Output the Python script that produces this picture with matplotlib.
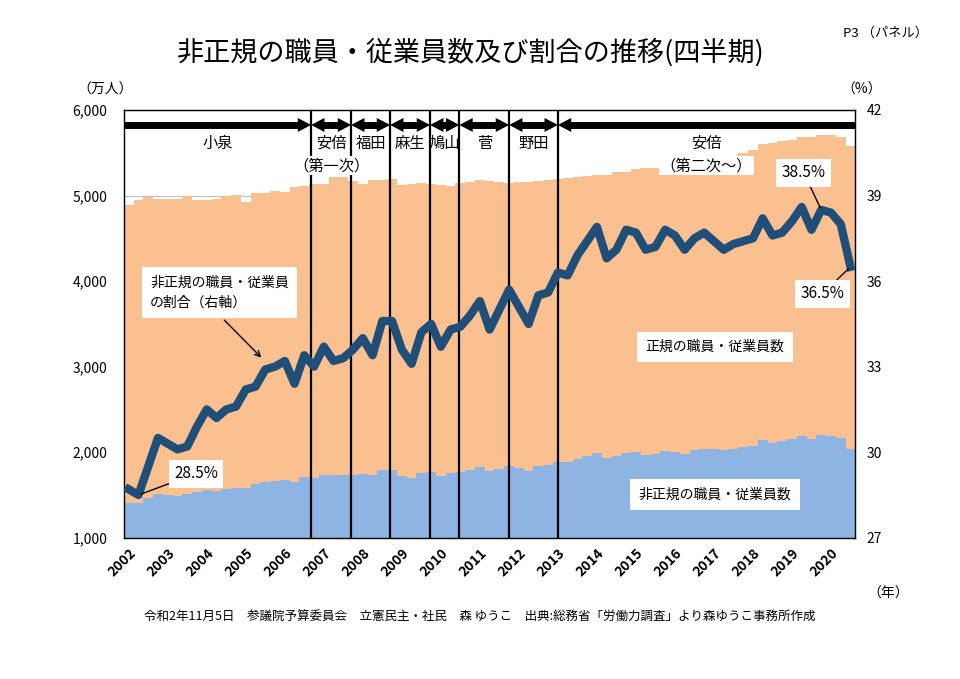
import numpy as np
import matplotlib.pyplot as plt
from matplotlib.ticker import FuncFormatter

plt.rcParams['font.family'] = ['Noto Sans CJK JP', 'DejaVu Sans']

# quarterly, 2002 Q1 ... 2020 Q3 (万人, %)
years = [str(y) for y in range(2002, 2021)]

non_regular = [1403, 1411, 1469, 1513, 1503, 1493, 1508, 1530, 1559, 1546,
               1573, 1582, 1587, 1623, 1653, 1668, 1675, 1651, 1707, 1696,
               1732, 1733, 1738, 1737, 1744, 1732, 1794, 1796, 1722, 1700,
               1759, 1770, 1727, 1753, 1772, 1796, 1828, 1775, 1807, 1839,
               1811, 1781, 1837, 1845, 1884, 1884, 1924, 1954, 1986, 1928,
               1955, 1996, 2000, 1973, 1979, 2015, 2008, 1983, 2021, 2034,
               2035, 2023, 2037, 2057, 2075, 2139, 2109, 2126, 2153, 2192,
               2151, 2196, 2193, 2162, 2037]

regular = [3487, 3539, 3511, 3447, 3457, 3467, 3487, 3420, 3391, 3409,
           3422, 3423, 3343, 3402, 3372, 3387, 3370, 3444, 3403, 3444,
           3408, 3487, 3482, 3433, 3386, 3453, 3391, 3394, 3402, 3435,
           3384, 3360, 3397, 3359, 3378, 3366, 3350, 3400, 3355, 3311,
           3349, 3381, 3338, 3337, 3306, 3321, 3289, 3271, 3254, 3312,
           3315, 3284, 3305, 3345, 3341, 3315, 3332, 3362, 3369, 3362,
           3405, 3431, 3423, 3443, 3457, 3461, 3501, 3514, 3497, 3488,
           3539, 3509, 3517, 3528, 3543]

ratio = [28.7, 28.5, 29.5, 30.5, 30.3, 30.1, 30.2, 30.9, 31.5, 31.2,
         31.5, 31.6, 32.2, 32.3, 32.9, 33.0, 33.2, 32.4, 33.4, 33.0,
         33.7, 33.2, 33.3, 33.6, 34.0, 33.4, 34.6, 34.6, 33.6, 33.1,
         34.2, 34.5, 33.7, 34.3, 34.4, 34.8, 35.3, 34.3, 35.0, 35.7,
         35.1, 34.5, 35.5, 35.6, 36.3, 36.2, 36.9, 37.4, 37.9, 36.8,
         37.1, 37.8, 37.7, 37.1, 37.2, 37.8, 37.6, 37.1, 37.5, 37.7,
         37.4, 37.1, 37.3, 37.4, 37.5, 38.2, 37.6, 37.7, 38.1, 38.6,
         37.8, 38.5, 38.4, 38.0, 36.5]

cabinets = ['小泉', '安倍', '福田', '麻生', '鳩山', '菅', '野田', '安倍']
cabinet_sub = ['', '（第一次）', '', '', '', '', '', '（第二次～）']
# borders between cabinets (quarter index units)
cabinet_lines = [18.7, 22.8, 26.8, 30.9, 33.9, 39.0, 44.0]

x = np.arange(len(ratio))

fig = plt.figure(figsize=(9.6, 6.79), dpi=100)
ax = fig.add_axes([0.129, 0.208, 0.762, 0.630])

ax.bar(x, non_regular, width=1.0, color='#8EB4E3', zorder=2)
ax.bar(x, regular, width=1.0, bottom=non_regular, color='#FAC090', zorder=2)
ax.set_xlim(-0.5, len(x) - 0.5)
ax.set_ylim(1000, 6000)
ax.set_yticks(range(1000, 7000, 1000))
ax.yaxis.set_major_formatter(FuncFormatter(lambda v, p: f'{int(v):,}'))
ax.grid(axis='y', color='#BFBFBF', lw=0.8, zorder=0)
ax.set_axisbelow(True)
ax.tick_params(axis='y', length=0, pad=12, labelsize=10)
ax.set_xticks(x[::4])
ax.set_xticklabels(years, rotation=45, ha='right', va='top',
                   rotation_mode='anchor', fontsize=10, fontweight='bold')
ax.tick_params(axis='x', length=0, pad=6)
for s in ax.spines.values():
    s.set_color('#222222')
    s.set_linewidth(1.0)

for b in cabinet_lines:
    ax.axvline(b, color='black', lw=1.6, zorder=3)

ax2 = ax.twinx()
ax2.set_ylim(27, 42)
ax2.set_yticks(range(27, 43, 3))
ax2.tick_params(axis='y', length=0, pad=8, labelsize=10)
ax2.plot(x, ratio, color='#1F4E79', lw=6, solid_joinstyle='round', zorder=5)

# cabinet arrows along the top
trans = ax2.get_xaxis_transform()
bounds = [-0.5] + cabinet_lines + [len(x) - 0.5]
ya = 0.965
head = 1.3   # head length in quarters
hprops = dict(arrowstyle='-|>,head_length=0.8,head_width=0.42', mutation_scale=12,
              lw=0, color='black', shrinkA=0, shrinkB=0)
for i, name in enumerate(cabinets):
    x0, x1 = bounds[i], bounds[i + 1]
    left_head = i > 0
    right_head = i < len(cabinets) - 1
    s0 = x0 + (head * 0.8 if left_head else 0)
    s1 = x1 - (head * 0.8 if right_head else 0)
    ax2.plot([s0, s1], [ya, ya], transform=trans, color='black', lw=5,
             solid_capstyle='butt', zorder=6)
    if right_head:
        ax2.annotate('', xy=(x1, ya), xytext=(x1 - head, ya),
                     xycoords=trans, textcoords=trans, arrowprops=hprops, zorder=6)
    if left_head:
        ax2.annotate('', xy=(x0, ya), xytext=(x0 + head, ya),
                     xycoords=trans, textcoords=trans, arrowprops=hprops, zorder=6)
    mid = (x0 + x1) / 2
    ax2.text(mid, 0.922, name, transform=trans, ha='center', va='center',
             fontsize=11, zorder=6)
    if cabinet_sub[i]:
        ax2.text(mid, 0.870, cabinet_sub[i], transform=trans, ha='center',
                 va='center', fontsize=11, zorder=6,
                 bbox=dict(facecolor='white', edgecolor='none', pad=1))

box = dict(facecolor='white', edgecolor='none', pad=4)
ax2.annotate('28.5%', xy=(1, 28.5), xytext=(6.9, 29.25), ha='center', va='center',
             fontsize=11, bbox=box, zorder=7,
             arrowprops=dict(arrowstyle='-', color='black', lw=1, shrinkA=0, shrinkB=2))
ax2.annotate('38.5%', xy=(71, 38.5), xytext=(69.2, 39.8), ha='center', va='center',
             fontsize=11, bbox=box, zorder=7,
             arrowprops=dict(arrowstyle='-', color='black', lw=1, shrinkA=0, shrinkB=2))
ax2.annotate('36.5%', xy=(74, 36.5), xytext=(71.1, 35.55), ha='center', va='center',
             fontsize=11, bbox=box, zorder=7,
             arrowprops=dict(arrowstyle='-', color='black', lw=1, shrinkA=0, shrinkB=2))

ax2.text(2.2, 36.2, '非正規の職員・従業員\nの割合（右軸）', ha='left', va='top',
         fontsize=10, linespacing=1.6, zorder=7,
         bbox=dict(facecolor='white', edgecolor='none', pad=6))
ax2.annotate('', xy=(13.8, 33.25), xytext=(9.6, 34.7),
             arrowprops=dict(arrowstyle='->', color='black', lw=1), zorder=7)

ax2.text(60.1, 33.69, '正規の職員・従業員数', ha='center', va='center', fontsize=10,
         bbox=dict(facecolor='white', edgecolor='none', pad=6), zorder=7)
ax2.text(60.1, 28.51, '非正規の職員・従業員数', ha='center', va='center', fontsize=10,
         bbox=dict(facecolor='white', edgecolor='none', pad=6), zorder=7)

fig.text(0.49, 0.923, '非正規の職員・従業員数及び割合の推移(四半期)', ha='center',
         va='center', fontsize=19.5)
fig.text(0.922, 0.951, 'P3 （パネル）', ha='center', va='center', fontsize=9.5)
fig.text(0.11, 0.868, '（万人）', ha='center', va='center', fontsize=10)
fig.text(0.898, 0.868, '（%）', ha='center', va='center', fontsize=10)
fig.text(0.925, 0.125, '（年）', ha='center', va='center', fontsize=10)
fig.text(0.5, 0.091, '令和2年11月5日　参議院予算委員会　立憲民主・社民　森 ゆうこ　'
         '出典:総務省「労働力調査」より森ゆうこ事務所作成',
         ha='center', va='center', fontsize=9)

fig.savefig('out.png', dpi=100)
